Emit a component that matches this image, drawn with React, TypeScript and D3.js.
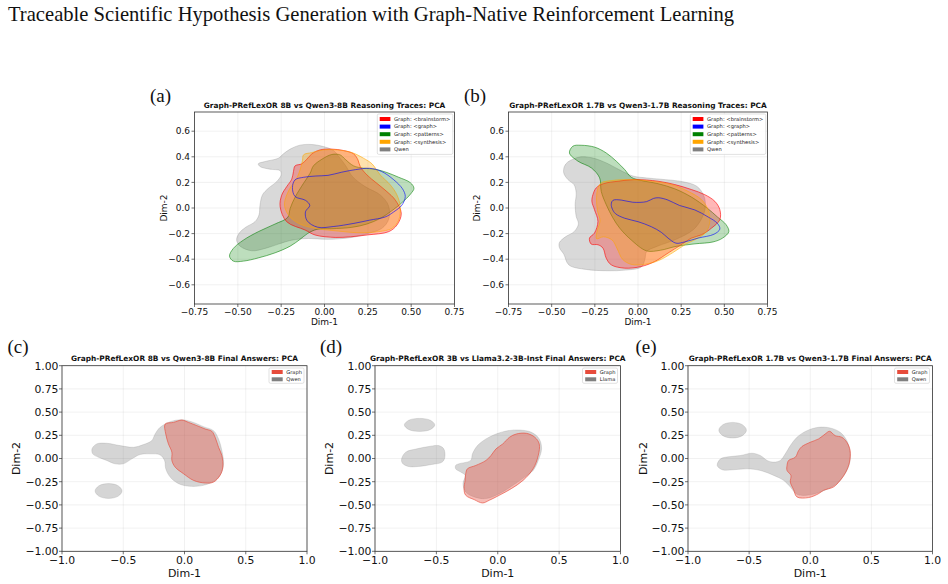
import React from 'react';
import * as d3 from 'd3';

type Pt = [number, number];

// ---------- tick values ----------
const ticksABx = [-0.75, -0.5, -0.25, 0, 0.25, 0.5, 0.75];
const ticksABy = [-0.6, -0.4, -0.2, 0, 0.2, 0.4, 0.6];
const ticksCDEx = [-1, -0.5, 0, 0.5, 1];
const ticksCDEy = [-1, -0.75, -0.5, -0.25, 0, 0.25, 0.5, 0.75, 1];

// ---------- legends ----------
const tagLabels = ['Graph: <brainstorm>', 'Graph: <graph>', 'Graph: <patterns>', 'Graph: <synthesis>', 'Qwen'];
const tagColors = ['red', 'blue', 'green', 'orange', 'gray'];

// ---------- panel (a) density contours (data coords) ----------
const aQwen: Pt[] = [[-0.237,0.423],[-0.198,0.46],[-0.141,0.491],[-0.073,0.496],[-0.006,0.48],[0.052,0.449],[0.09,0.389],[0.123,0.329],[0.162,0.245],[0.235,0.167],[0.322,0.102],[0.37,0.016],[0.37,-0.089],[0.331,-0.159],[0.254,-0.198],[0.158,-0.23],[0.013,-0.245],[-0.092,-0.238],[-0.189,-0.251],[-0.266,-0.282],[-0.343,-0.316],[-0.42,-0.334],[-0.487,-0.298],[-0.507,-0.251],[-0.493,-0.198],[-0.455,-0.151],[-0.401,-0.107],[-0.378,-0.055],[-0.372,0.023],[-0.358,0.102],[-0.324,0.154],[-0.276,0.206],[-0.25,0.258],[-0.256,0.292],[-0.314,0.303],[-0.372,0.324],[-0.382,0.345],[-0.343,0.363],[-0.266,0.389]];
const aBrainstorm: Pt[] = [[-0.17,0.329],[-0.131,0.345],[-0.102,0.381],[-0.073,0.423],[-0.025,0.454],[0.042,0.46],[0.11,0.449],[0.168,0.423],[0.193,0.376],[0.206,0.324],[0.245,0.258],[0.302,0.193],[0.36,0.128],[0.408,0.063],[0.443,-0.042],[0.418,-0.133],[0.37,-0.185],[0.25,-0.21],[0.15,-0.225],[0.062,-0.23],[-0.054,-0.211],[-0.112,-0.172],[-0.218,-0.107],[-0.256,0.01],[-0.247,0.1],[-0.218,0.167],[-0.189,0.225],[-0.179,0.285]];
const aGraph: Pt[] = [[-0.17,0.22],[-0.12,0.24],[-0.05,0.25],[0.02,0.255],[0.1,0.28],[0.18,0.30],[0.26,0.31],[0.33,0.285],[0.4,0.22],[0.45,0.15],[0.466,0.09],[0.447,0.023],[0.4,-0.03],[0.35,-0.07],[0.26,-0.095],[0.17,-0.12],[0.05,-0.145],[-0.04,-0.15],[-0.1,-0.1],[-0.11,-0.03],[-0.085,0.02],[-0.11,0.06],[-0.17,0.09],[-0.185,0.16]];
const aPatterns: Pt[] = [[-0.083,0.272],[-0.064,0.329],[-0.015,0.381],[0.042,0.418],[0.09,0.415],[0.119,0.381],[0.168,0.329],[0.225,0.311],[0.293,0.303],[0.36,0.277],[0.428,0.24],[0.495,0.198],[0.516,0.154],[0.497,0.11],[0.447,0.042],[0.389,-0.021],[0.322,-0.081],[0.245,-0.125],[0.158,-0.151],[0.042,-0.162],[-0.044,-0.167],[-0.096,-0.198],[-0.141,-0.245],[-0.198,-0.298],[-0.285,-0.35],[-0.382,-0.39],[-0.468,-0.415],[-0.526,-0.415],[-0.548,-0.376],[-0.526,-0.316],[-0.468,-0.251],[-0.382,-0.185],[-0.285,-0.125],[-0.212,-0.073],[-0.198,-0.003],[-0.17,0.084],[-0.121,0.193]];
const aSynthesis: Pt[] = [[-0.127,0.371],[-0.121,0.415],[-0.073,0.433],[-0.006,0.454],[0.071,0.454],[0.158,0.433],[0.225,0.389],[0.274,0.345],[0.322,0.258],[0.38,0.18],[0.418,0.102],[0.437,0.01],[0.428,-0.094],[0.389,-0.159],[0.312,-0.185],[0.197,-0.193],[0.062,-0.178],[-0.054,-0.159],[-0.15,-0.12],[-0.208,-0.055],[-0.231,0.023],[-0.218,0.102],[-0.193,0.167],[-0.16,0.232],[-0.141,0.298]];

// ---------- panel (b) density contours ----------
const bQwen: Pt[] = [[-0.33,0.40],[-0.26,0.39],[-0.18,0.35],[-0.11,0.30],[-0.03,0.25],[0.05,0.235],[0.13,0.225],[0.26,0.205],[0.34,0.17],[0.38,0.10],[0.39,0.01],[0.37,-0.08],[0.32,-0.17],[0.22,-0.245],[0.11,-0.30],[0.05,-0.34],[0.04,-0.40],[0.02,-0.46],[-0.07,-0.485],[-0.18,-0.49],[-0.30,-0.48],[-0.40,-0.445],[-0.43,-0.36],[-0.455,-0.31],[-0.455,-0.27],[-0.42,-0.225],[-0.37,-0.185],[-0.345,-0.125],[-0.358,-0.065],[-0.364,0.026],[-0.358,0.117],[-0.371,0.183],[-0.406,0.222],[-0.43,0.274],[-0.426,0.326],[-0.406,0.36],[-0.37,0.385]];
const bBrainstorm: Pt[] = [[-0.242,0.157],[-0.2,0.19],[-0.116,0.209],[-0.019,0.222],[0.116,0.209],[0.213,0.183],[0.31,0.144],[0.387,0.104],[0.445,0.052],[0.474,-0.013],[0.474,-0.091],[0.426,-0.157],[0.368,-0.209],[0.31,-0.235],[0.25,-0.287],[0.174,-0.352],[0.097,-0.418],[0.019,-0.457],[-0.077,-0.47],[-0.155,-0.444],[-0.184,-0.392],[-0.203,-0.313],[-0.232,-0.287],[-0.271,-0.282],[-0.281,-0.235],[-0.252,-0.196],[-0.232,-0.104],[-0.252,-0.013],[-0.267,0.052],[-0.261,0.104]];
const bGraph: Pt[] = [[-0.155,0.03],[-0.145,0.06],[-0.097,0.062],[-0.03,0.045],[0.05,0.05],[0.09,0.075],[0.12,0.08],[0.174,0.062],[0.24,0.02],[0.329,-0.015],[0.406,-0.07],[0.46,-0.12],[0.474,-0.165],[0.44,-0.205],[0.348,-0.235],[0.271,-0.265],[0.22,-0.275],[0.174,-0.235],[0.135,-0.19],[0.077,-0.146],[0.0,-0.107],[-0.077,-0.08],[-0.13,-0.045],[-0.148,-0.01]];
const bPatterns: Pt[] = [[-0.377,0.483],[-0.329,0.49],[-0.25,0.475],[-0.184,0.43],[-0.126,0.366],[-0.077,0.30],[-0.039,0.24],[0.019,0.215],[0.116,0.19],[0.213,0.15],[0.31,0.085],[0.40,0.0],[0.46,-0.07],[0.51,-0.13],[0.526,-0.185],[0.49,-0.235],[0.435,-0.265],[0.33,-0.28],[0.22,-0.30],[0.13,-0.33],[0.05,-0.335],[-0.039,-0.25],[-0.106,-0.157],[-0.145,-0.078],[-0.184,0.026],[-0.213,0.13],[-0.222,0.235],[-0.27,0.313],[-0.348,0.366],[-0.397,0.43]];
const bSynthesis: Pt[] = [[-0.232,0.157],[-0.213,0.196],[-0.155,0.214],[-0.039,0.222],[0.077,0.209],[0.193,0.183],[0.29,0.13],[0.368,0.065],[0.406,-0.013],[0.416,-0.104],[0.397,-0.183],[0.348,-0.235],[0.28,-0.28],[0.2,-0.35],[0.12,-0.41],[0.04,-0.44],[-0.04,-0.44],[-0.09,-0.40],[-0.12,-0.32],[-0.15,-0.25],[-0.2,-0.225],[-0.24,-0.24],[-0.235,-0.17],[-0.22,-0.1],[-0.235,-0.02],[-0.24,0.08]];

// ---------- panel (c) ----------
const cQwenMain: Pt[] = [[-0.755,0.104],[-0.717,0.157],[-0.635,0.164],[-0.526,0.139],[-0.417,0.121],[-0.335,0.15],[-0.267,0.193],[-0.24,0.264],[-0.199,0.336],[-0.117,0.396],[-0.022,0.418],[0.074,0.389],[0.155,0.343],[0.237,0.30],[0.278,0.21],[0.305,0.086],[0.319,-0.057],[0.297,-0.164],[0.25,-0.236],[0.155,-0.289],[0.046,-0.30],[-0.049,-0.271],[-0.117,-0.2],[-0.153,-0.111],[-0.163,-0.021],[-0.199,0.039],[-0.281,0.05],[-0.362,0.043],[-0.43,-0.004],[-0.499,-0.057],[-0.567,-0.057],[-0.635,-0.021],[-0.703,0.014],[-0.749,0.05]];
const cQwenIsland: Pt[] = [[-0.73,-0.35],[-0.70,-0.295],[-0.62,-0.27],[-0.54,-0.295],[-0.51,-0.35],[-0.54,-0.405],[-0.62,-0.43],[-0.70,-0.405]];
const cGraph: Pt[] = [[-0.158,0.371],[-0.09,0.389],[-0.022,0.414],[0.033,0.389],[0.101,0.354],[0.169,0.318],[0.223,0.293],[0.25,0.229],[0.278,0.121],[0.305,0.032],[0.313,-0.093],[0.29,-0.182],[0.237,-0.254],[0.169,-0.264],[0.074,-0.236],[-0.008,-0.164],[-0.076,-0.093],[-0.103,-0.021],[-0.103,0.068],[-0.131,0.157],[-0.153,0.264]];

// ---------- panel (d) ----------
const dLlamaMain: Pt[] = [[-0.343,-0.075],[-0.316,-0.057],[-0.22,-0.021],[-0.206,0.05],[-0.165,0.139],[-0.096,0.211],[-0.014,0.264],[0.082,0.30],[0.179,0.307],[0.275,0.282],[0.338,0.211],[0.357,0.104],[0.33,-0.021],[0.288,-0.129],[0.22,-0.2],[0.124,-0.289],[0.014,-0.379],[-0.096,-0.432],[-0.192,-0.414],[-0.261,-0.361],[-0.283,-0.271],[-0.266,-0.182],[-0.302,-0.146],[-0.343,-0.111]];
const dLlamaMid: Pt[] = [[-0.783,-0.004],[-0.75,0.068],[-0.659,0.104],[-0.563,0.129],[-0.481,0.139],[-0.44,0.104],[-0.431,0.014],[-0.453,-0.039],[-0.536,-0.064],[-0.646,-0.086],[-0.728,-0.086],[-0.777,-0.05]];
const dLlamaIsland: Pt[] = [[-0.761,0.362],[-0.725,0.412],[-0.637,0.432],[-0.549,0.412],[-0.513,0.362],[-0.549,0.312],[-0.637,0.292],[-0.725,0.312]];
const dGraph: Pt[] = [[-0.261,-0.164],[-0.247,-0.111],[-0.179,-0.075],[-0.096,-0.021],[-0.055,0.032],[-0.014,0.104],[0.041,0.157],[0.096,0.229],[0.151,0.264],[0.234,0.271],[0.302,0.229],[0.338,0.157],[0.33,0.032],[0.288,-0.111],[0.206,-0.236],[0.11,-0.325],[0.027,-0.386],[-0.069,-0.45],[-0.124,-0.479],[-0.192,-0.443],[-0.261,-0.396],[-0.275,-0.325],[-0.266,-0.236]];

// ---------- panel (e) ----------
const eQwenMain: Pt[] = [[-0.761,-0.075],[-0.734,-0.004],[-0.652,0.021],[-0.571,0.032],[-0.476,0.057],[-0.408,0.032],[-0.353,-0.021],[-0.299,-0.039],[-0.245,-0.021],[-0.204,0.05],[-0.163,0.139],[-0.109,0.229],[-0.027,0.30],[0.068,0.336],[0.163,0.329],[0.245,0.282],[0.299,0.193],[0.326,0.068],[0.321,-0.057],[0.285,-0.164],[0.217,-0.271],[0.082,-0.361],[-0.027,-0.396],[-0.109,-0.386],[-0.163,-0.307],[-0.217,-0.236],[-0.299,-0.182],[-0.408,-0.129],[-0.516,-0.111],[-0.625,-0.121],[-0.72,-0.121]];
const eQwenIsland: Pt[] = [[-0.748,0.305],[-0.715,0.364],[-0.635,0.389],[-0.555,0.364],[-0.522,0.305],[-0.555,0.246],[-0.635,0.221],[-0.715,0.246]];
const eGraph: Pt[] = [[-0.19,-0.075],[-0.177,-0.021],[-0.122,0.014],[-0.095,0.086],[-0.068,0.129],[0.0,0.175],[0.068,0.211],[0.122,0.264],[0.158,0.293],[0.204,0.246],[0.258,0.229],[0.299,0.175],[0.326,0.086],[0.321,-0.039],[0.291,-0.146],[0.245,-0.236],[0.19,-0.307],[0.109,-0.343],[0.068,-0.379],[-0.014,-0.421],[-0.109,-0.414],[-0.136,-0.336],[-0.163,-0.254],[-0.158,-0.182],[-0.19,-0.129]];

const GRAPH_RED = '#e74c3c';

type Layer = { shapes: Pt[][]; color: string; fillOp: number; strokeOp: number; sw: number };
type LegendItem = { label: string; color: string };

type PanelProps = {
  x0: number; x1: number; y0: number; y1: number;
  dom: [number, number];
  xt: number[]; yt: number[];
  xfmt: (v: number) => string; yfmt: (v: number) => string;
  tickFs: number; labelFs: number;
  xTickDy: number; xLabelDy: number; yTickGap: number; yLabelX: number;
  title: string;
  layers: Layer[];
  legend: LegendItem[];
  legW: number; legRowH: number; legFirst: number; legPad: number; legPatchW: number; legPatchH: number;
  legFs: number; legInsetR: number; legInsetT: number;
};

const minusFmt = (digits: number) => (v: number) => {
  const s = d3.format(`.${digits}f`)(Math.abs(v) < 1e-9 ? 0 : v);
  return s.replace('-', '\u2212');
};

function Panel(p: PanelProps) {
  const xs = d3.scaleLinear().domain(p.dom).range([p.x0, p.x1]);
  const ys = d3.scaleLinear().domain(p.dom).range([p.y1, p.y0]);
  const line = d3.line<Pt>().x(d => xs(d[0])).y(d => ys(d[1])).curve(d3.curveCatmullRomClosed.alpha(0.5));
  const legH = p.legFirst * 2 + p.legRowH * (p.legend.length - 1);
  const lx = p.x1 - p.legInsetR - p.legW;
  const ly = p.y0 + p.legInsetT;
  const font = 'DejaVu Sans, sans-serif';
  return (
    <g>
      {p.xt.map(v => (
        <line key={'gx' + v} x1={xs(v)} x2={xs(v)} y1={p.y0} y2={p.y1} stroke="#b0b0b0" strokeOpacity={0.3} strokeWidth={0.6} />
      ))}
      {p.yt.map(v => (
        <line key={'gy' + v} x1={p.x0} x2={p.x1} y1={ys(v)} y2={ys(v)} stroke="#b0b0b0" strokeOpacity={0.3} strokeWidth={0.6} />
      ))}
      {p.layers.map((L, i) => (
        <g key={'L' + i}>
          {L.shapes.map((s, j) => (
            <path key={j} d={line(s) || ''} fill={L.color} fillOpacity={L.fillOp} stroke={L.color} strokeOpacity={L.strokeOp} strokeWidth={L.sw} strokeLinejoin="round" />
          ))}
        </g>
      ))}
      <rect x={p.x0} y={p.y0} width={p.x1 - p.x0} height={p.y1 - p.y0} fill="none" stroke="#333" strokeWidth={0.8} />
      {p.xt.map(v => (
        <g key={'tx' + v}>
          <line x1={xs(v)} x2={xs(v)} y1={p.y1} y2={p.y1 + 3} stroke="#333" strokeWidth={0.7} />
          <text x={xs(v)} y={p.y1 + p.xTickDy} fontSize={p.tickFs} fontFamily={font} textAnchor="middle" fill="#111">{p.xfmt(v)}</text>
        </g>
      ))}
      {p.yt.map(v => (
        <g key={'ty' + v}>
          <line x1={p.x0 - 3} x2={p.x0} y1={ys(v)} y2={ys(v)} stroke="#333" strokeWidth={0.7} />
          <text x={p.x0 - p.yTickGap} y={ys(v)} dy="0.36em" fontSize={p.tickFs} fontFamily={font} textAnchor="end" fill="#111">{p.yfmt(v)}</text>
        </g>
      ))}
      <text x={(p.x0 + p.x1) / 2} y={p.y1 + p.xLabelDy} fontSize={p.labelFs} fontFamily={font} textAnchor="middle" fill="#111">Dim-1</text>
      <text transform={`translate(${p.yLabelX},${(p.y0 + p.y1) / 2}) rotate(-90)`} dy="0.36em" fontSize={p.labelFs} fontFamily={font} textAnchor="middle" fill="#111">Dim-2</text>
      <text x={(p.x0 + p.x1) / 2} y={p.y0 - 4.3} fontSize={7.4} fontWeight="bold" fontFamily={font} textAnchor="middle" fill="#111">{p.title}</text>
      <g>
        <rect x={lx} y={ly} width={p.legW} height={legH} rx={1.5} fill="#fff" fillOpacity={0.85} stroke="#cccccc" strokeWidth={0.6} />
        {p.legend.map((it, i) => {
          const cy = ly + p.legFirst + i * p.legRowH;
          return (
            <g key={'lg' + i}>
              <rect x={lx + p.legPad} y={cy - p.legPatchH / 2} width={p.legPatchW} height={p.legPatchH} fill={it.color} />
              <text x={lx + p.legPad + p.legPatchW + 3.6} y={cy} dy="0.36em" fontSize={p.legFs} fontFamily={font} fill="#222">{it.label}</text>
            </g>
          );
        })}
      </g>
    </g>
  );
}

const abCommon = {
  dom: [-0.75, 0.75] as [number, number],
  xt: ticksABx, yt: ticksABy,
  xfmt: minusFmt(2), yfmt: minusFmt(1),
  tickFs: 9, labelFs: 9, xTickDy: 10.8, xLabelDy: 20.5, yTickGap: 4.5,
  legW: 75.5, legRowH: 7.6, legFirst: 5, legPad: 2.4, legPatchW: 10.7, legPatchH: 4, legFs: 5.2, legInsetR: 1.7, legInsetT: 2,
  legend: tagLabels.map((l, i) => ({ label: l, color: tagColors[i] })),
};

const cdeCommon = {
  dom: [-1, 1] as [number, number],
  xt: ticksCDEx, yt: ticksCDEy,
  xfmt: minusFmt(1), yfmt: minusFmt(2),
  tickFs: 10.8, labelFs: 11, xTickDy: 13, xLabelDy: 25.2, yTickGap: 3.5,
  legW: 35, legRowH: 7.3, legFirst: 4, legPad: 2.7, legPatchW: 11, legPatchH: 4, legFs: 5.1, legInsetR: 3, legInsetT: 2.3,
};

function abLayers(q: Pt[], br: Pt[], gr: Pt[], pa: Pt[], sy: Pt[]): Layer[] {
  return [
    { shapes: [q], color: 'gray', fillOp: 0.3, strokeOp: 0.4, sw: 0.7 },
    { shapes: [pa], color: 'green', fillOp: 0.26, strokeOp: 0.7, sw: 0.8 },
    { shapes: [br], color: 'red', fillOp: 0.28, strokeOp: 0.75, sw: 0.8 },
    { shapes: [sy], color: 'orange', fillOp: 0.32, strokeOp: 0.7, sw: 0.8 },
    { shapes: [gr], color: 'blue', fillOp: 0.03, strokeOp: 0.75, sw: 0.8 },
  ];
}

function cdeLayers(q: Pt[][], g: Pt[]): Layer[] {
  return [
    { shapes: q, color: 'gray', fillOp: 0.33, strokeOp: 0.35, sw: 0.6 },
    { shapes: [g], color: GRAPH_RED, fillOp: 0.38, strokeOp: 0.8, sw: 0.8 },
  ];
}

export default function App() {
  const serif = 'Liberation Serif, Times New Roman, serif';
  return (
    <div style={{ position: 'absolute', left: 0, top: 0 }}>
      <svg width={948} height={584} viewBox="0 0 948 584" style={{ display: 'block', background: '#fff' }}>
        <rect x={0} y={0} width={948} height={584} fill="#fff" />
        <text x={8} y={21} fontSize={20.6} fontFamily={serif} fill="#111">Traceable Scientific Hypothesis Generation with Graph-Native Reinforcement Learning</text>

        <text x={150} y={101.5} fontSize={19} fontFamily={serif} fill="#111">(a)</text>
        <text x={464} y={101.5} fontSize={19} fontFamily={serif} fill="#111">(b)</text>
        <text x={7.5} y={353} fontSize={19} fontFamily={serif} fill="#111">(c)</text>
        <text x={320} y={353} fontSize={19} fontFamily={serif} fill="#111">(d)</text>
        <text x={635.5} y={353} fontSize={19} fontFamily={serif} fill="#111">(e)</text>

        <Panel {...abCommon} x0={194.5} x1={454.5} y0={112} y1={304} yLabelX={163.3}
          title="Graph-PRefLexOR 8B vs Qwen3-8B Reasoning Traces: PCA"
          layers={abLayers(aQwen, aBrainstorm, aGraph, aPatterns, aSynthesis)} />
        <Panel {...abCommon} x0={508.5} x1={767.5} y0={112} y1={304} yLabelX={476.7}
          title="Graph-PRefLexOR 1.7B vs Qwen3-1.7B Reasoning Traces: PCA"
          layers={abLayers(bQwen, bBrainstorm, bGraph, bPatterns, bSynthesis)} />

        <Panel {...cdeCommon} x0={62} x1={307} y0={365.7} y1={551.3} yLabelX={16}
          title="Graph-PRefLexOR 8B vs Qwen3-8B Final Answers: PCA"
          legend={[{ label: 'Graph', color: GRAPH_RED }, { label: 'Qwen', color: 'gray' }]}
          layers={cdeLayers([cQwenMain, cQwenIsland], cGraph)} />
        <Panel {...cdeCommon} x0={375} x1={620.5} y0={365.7} y1={551.3} yLabelX={329.3}
          title="Graph-PRefLexOR 3B vs Llama3.2-3B-Inst Final Answers: PCA"
          legend={[{ label: 'Graph', color: GRAPH_RED }, { label: 'Llama', color: 'gray' }]}
          layers={cdeLayers([dLlamaMain, dLlamaMid, dLlamaIsland], dGraph)} />
        <Panel {...cdeCommon} x0={688} x1={932.5} y0={365.7} y1={551.3} yLabelX={643.3}
          title="Graph-PRefLexOR 1.7B vs Qwen3-1.7B Final Answers: PCA"
          legend={[{ label: 'Graph', color: GRAPH_RED }, { label: 'Qwen', color: 'gray' }]}
          layers={cdeLayers([eQwenMain, eQwenIsland], eGraph)} />
      </svg>
    </div>
  );
}
